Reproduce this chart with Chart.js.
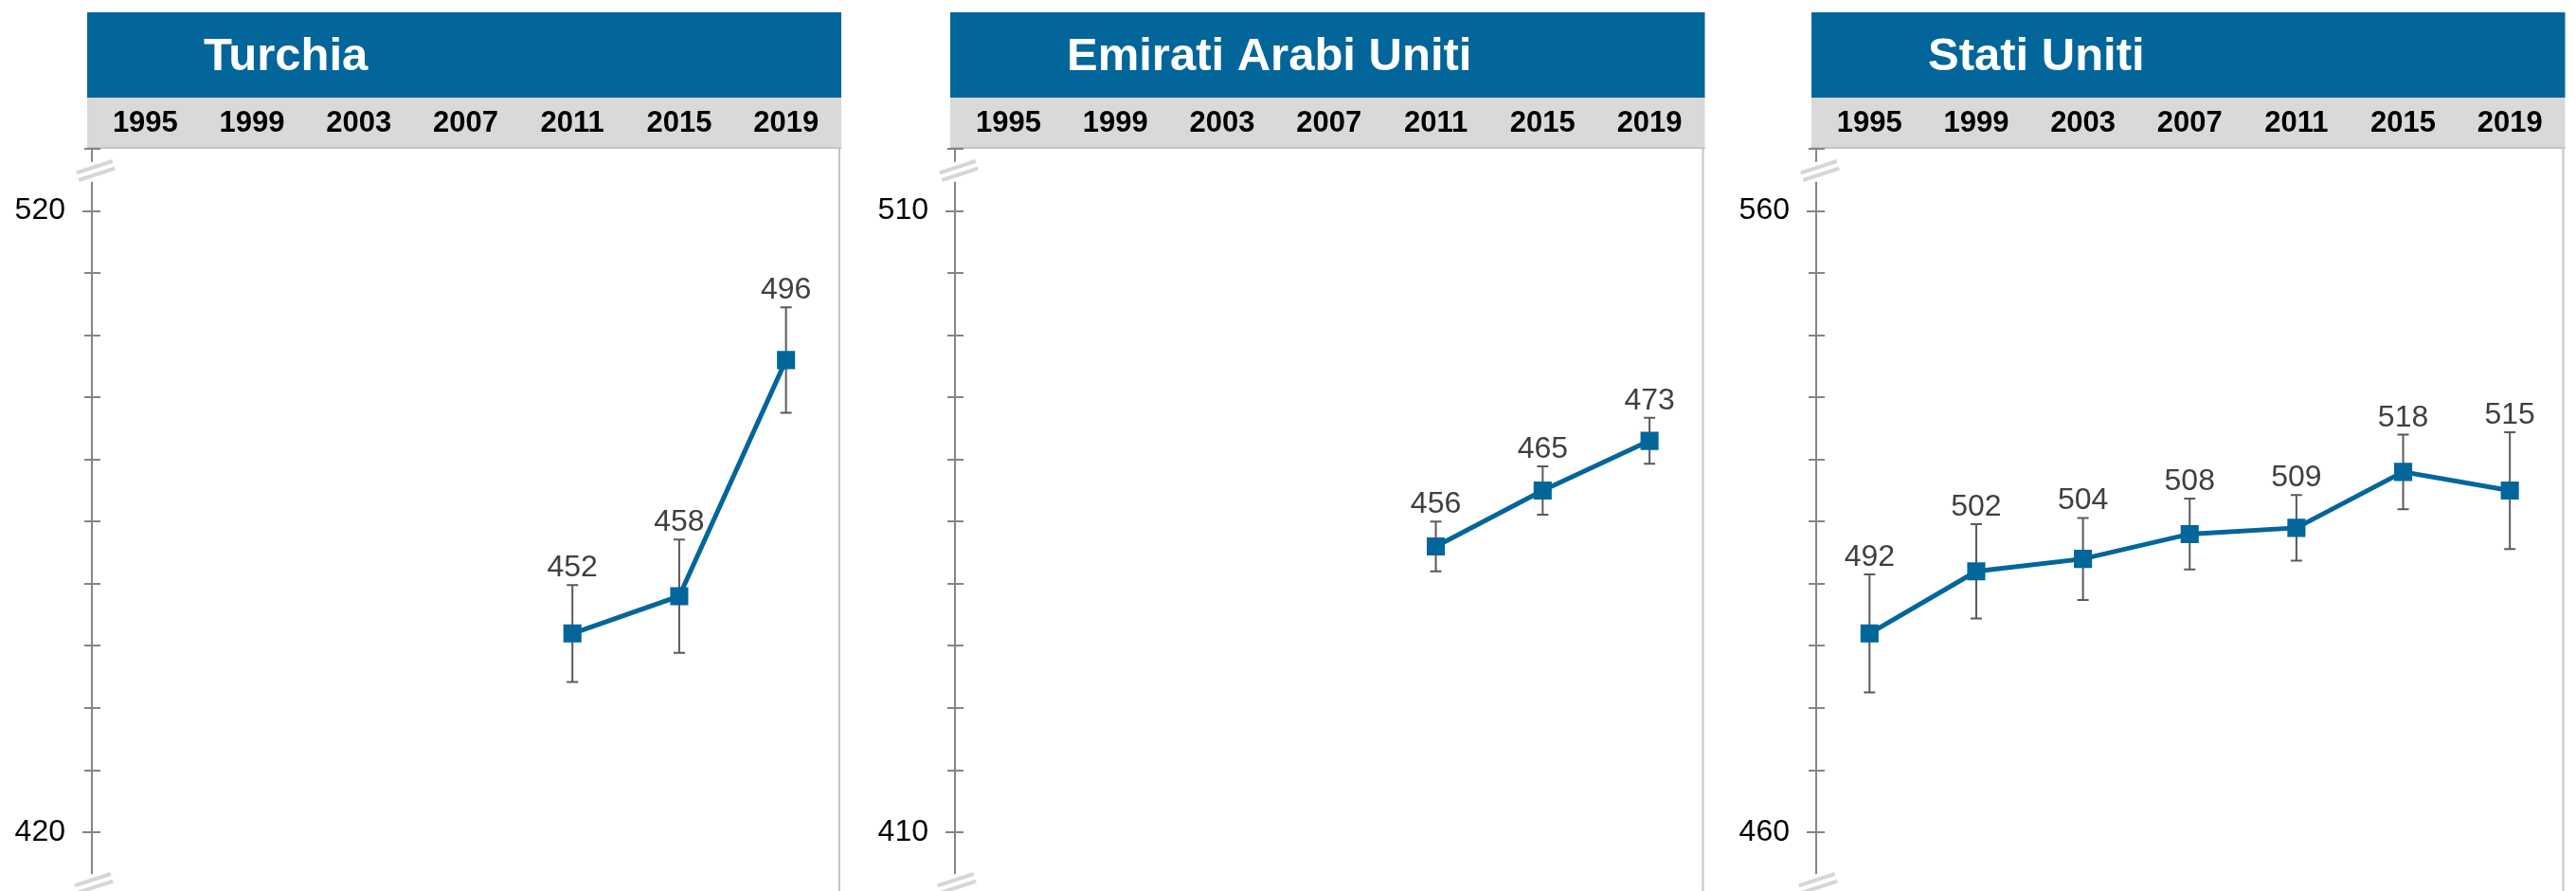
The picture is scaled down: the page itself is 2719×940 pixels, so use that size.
<!DOCTYPE html>
<html>
<head>
<meta charset="utf-8">
<script src="https://cdn.jsdelivr.net/npm/chart.js@4.4.1/dist/chart.umd.min.js"></script>
<style>
  body { margin: 0; background: #fff; }
  #wrap { position: relative; width: 2719px; height: 940px; overflow: hidden; }
  #wrap canvas { position: absolute; top: 0; }
</style>
</head>
<body>
<div id="wrap">
  <canvas id="turchia"></canvas>
  <canvas id="emirati"></canvas>
  <canvas id="usa"></canvas>
</div>
<script>
const years = ['1995', '1999', '2003', '2007', '2011', '2015', '2019']

const turchia = [null, null, null, null, 452, 458, 496]
const turchiaErr = [null, null, null, null, 7.8, 9.1, 8.5]

const emirati = [null, null, null, null, 456, 465, 473]
const emiratiErr = [null, null, null, null, 4.0, 3.9, 3.7]

const statiUniti = [492, 502, 504, 508, 509, 518, 515]
const statiUnitiErr = [9.5, 7.6, 6.6, 5.7, 5.3, 6.0, 9.4]

const titles = ['Turchia', 'Emirati Arabi Uniti', 'Stati Uniti']
const yMin = [413.3, 403.3, 453.3]
const yMax = [530, 520, 570]
const yLabeled = [[520, 420], [510, 410], [560, 460]]

const BLUE = '#02669a'
const FONT = '"Liberation Sans", Arial, Helvetica, sans-serif'

Chart.defaults.font.family = FONT

// header band, error bars, value labels, axis ticks and break marks
const panelPlugin = {
    id: 'panel',
    beforeDraw(chart, args, opts) {
        const ctx = chart.ctx
        const a = chart.chartArea
        const left = a.left - 5
        const w = a.right + 2 - left
        ctx.save()
        ctx.fillStyle = BLUE
        ctx.fillRect(left, 13, w, 90)
        ctx.fillStyle = '#d9d9d9'
        ctx.fillRect(left, 103, w, 54)
        ctx.fillStyle = '#c4c4c4'
        ctx.fillRect(left, 155, w, 2)
        ctx.fillRect(a.right - 1, 157, 2, chart.height - 157)
        ctx.fillStyle = '#fff'
        ctx.font = 'bold 49px ' + FONT
        ctx.textBaseline = 'alphabetic'
        ctx.textAlign = 'left'
        ctx.fillText(opts.title, a.left + 118, 74)
        ctx.restore()
    },
    beforeDatasetsDraw(chart) {
        const ctx = chart.ctx
        const y = chart.scales.y
        const ds = chart.data.datasets[0]
        const meta = chart.getDatasetMeta(0)
        ctx.save()
        ctx.strokeStyle = '#5a5a5a'
        ctx.lineWidth = 2
        ds.data.forEach((v, i) => {
            if (v === null) return
            const e = ds.errors[i]
            const x = meta.data[i].x
            const top = y.getPixelForValue(v + e)
            const bot = y.getPixelForValue(v - e)
            ctx.beginPath()
            ctx.moveTo(x, top); ctx.lineTo(x, bot)
            ctx.moveTo(x - 6, top); ctx.lineTo(x + 6, top)
            ctx.moveTo(x - 6, bot); ctx.lineTo(x + 6, bot)
            ctx.stroke()
        })
        ctx.restore()
    },
    afterDatasetsDraw(chart) {
        const ctx = chart.ctx
        const y = chart.scales.y
        const ds = chart.data.datasets[0]
        const meta = chart.getDatasetMeta(0)
        ctx.save()
        ctx.fillStyle = '#404040'
        ctx.font = '32px ' + FONT
        ctx.textAlign = 'center'
        ctx.textBaseline = 'alphabetic'
        ds.data.forEach((v, i) => {
            if (v === null) return
            const top = y.getPixelForValue(v + ds.errors[i])
            ctx.fillText(String(v), meta.data[i].x, top - 9)
        })
        ctx.restore()
    },
    afterDraw(chart, args, opts) {
        const ctx = chart.ctx
        const y = chart.scales.y
        const a = chart.chartArea
        const ax = a.left
        ctx.save()
        ctx.strokeStyle = '#858585'
        ctx.lineWidth = 2
        y.ticks.forEach(t => {
            const py = Math.round(y.getPixelForValue(t.value))
            const ext = opts.labeled.includes(t.value) ? 10 : 8
            ctx.beginPath()
            ctx.moveTo(ax - ext, py)
            ctx.lineTo(ax + 9, py)
            ctx.stroke()
        })
        // axis break marks
        const breakMark = (cx, cy) => {
            ctx.save()
            ctx.translate(cx, cy)
            ctx.rotate(-18 * Math.PI / 180)
            ctx.fillStyle = '#fff'
            ctx.fillRect(-24, -10, 48, 20)
            ctx.strokeStyle = '#d6d6d6'
            ctx.lineWidth = 4
            ctx.beginPath()
            ctx.moveTo(-20, -4); ctx.lineTo(20, -4)
            ctx.moveTo(-20, 4); ctx.lineTo(20, 4)
            ctx.stroke()
            ctx.restore()
        }
        breakMark(ax + 4, a.top + 23)
        breakMark(ax + 2, a.bottom + 10)
        ctx.restore()
    }
}

const panelLeft = [0, 911, 1820]
const panelWidth = [900, 900, 899]
const panelPadRight = [14, 13, 9]
const panelIds = ['turchia', 'emirati', 'usa']
const panelData = [turchia, emirati, statiUniti]
const panelErr = [turchiaErr, emiratiErr, statiUnitiErr]

panelIds.forEach((id, p) => {
    const canvas = document.getElementById(id)
    canvas.width = panelWidth[p]
    canvas.height = 940
    canvas.style.left = panelLeft[p] + 'px'
    canvas.style.width = panelWidth[p] + 'px'
    canvas.style.height = '940px'

    const config = {
        type: 'line',
        data: {
            labels: years,
            datasets: [{
                data: panelData[p],
                errors: panelErr[p],
                borderColor: BLUE,
                backgroundColor: BLUE,
                borderWidth: 5,
                pointStyle: 'rect',
                pointRadius: 13.5,
                pointBorderWidth: 0,
                pointBackgroundColor: BLUE,
                tension: 0,
                spanGaps: false,
            }]
        },
        options: {
            responsive: false,
            animation: false,
            devicePixelRatio: 1,
            layout: {
                padding: { top: 103, bottom: 18, left: 0, right: panelPadRight[p] }
            },
            plugins: {
                legend: { display: false },
                tooltip: { enabled: false },
                panel: { title: titles[p], labeled: yLabeled[p] },
            },
            scales: {
                x: {
                    type: 'category',
                    position: 'top',
                    offset: true,
                    grid: { display: false, drawTicks: false },
                    border: { display: false },
                    ticks: {
                        color: '#000',
                        font: { size: 31, weight: 'bold' },
                        padding: 8,
                        maxRotation: 0,
                        autoSkip: false,
                    },
                    afterFit: (scale) => {
                        scale.height = 54
                        scale.paddingLeft = 0
                        scale.paddingRight = 0
                    },
                },
                y: {
                    min: yMin[p],
                    max: yMax[p],
                    grid: { display: false, drawTicks: false },
                    border: { display: true, color: '#858585', width: 2 },
                    ticks: {
                        stepSize: 10,
                        color: '#000',
                        font: { size: 32 },
                        padding: 28,
                        callback: (value) => yLabeled[p].includes(value) ? String(value) : '',
                    },
                    afterBuildTicks: (scale) => {
                        scale.ticks = scale.ticks.filter(t => Math.abs(t.value % 10) < 1e-6)
                    },
                    afterFit: (scale) => {
                        scale.width = 97
                        scale.paddingTop = 0
                        scale.paddingBottom = 0
                    },
                },
            },
        },
        plugins: [panelPlugin],
    }
    new Chart(canvas, config)
})
</script>
</body>
</html>
